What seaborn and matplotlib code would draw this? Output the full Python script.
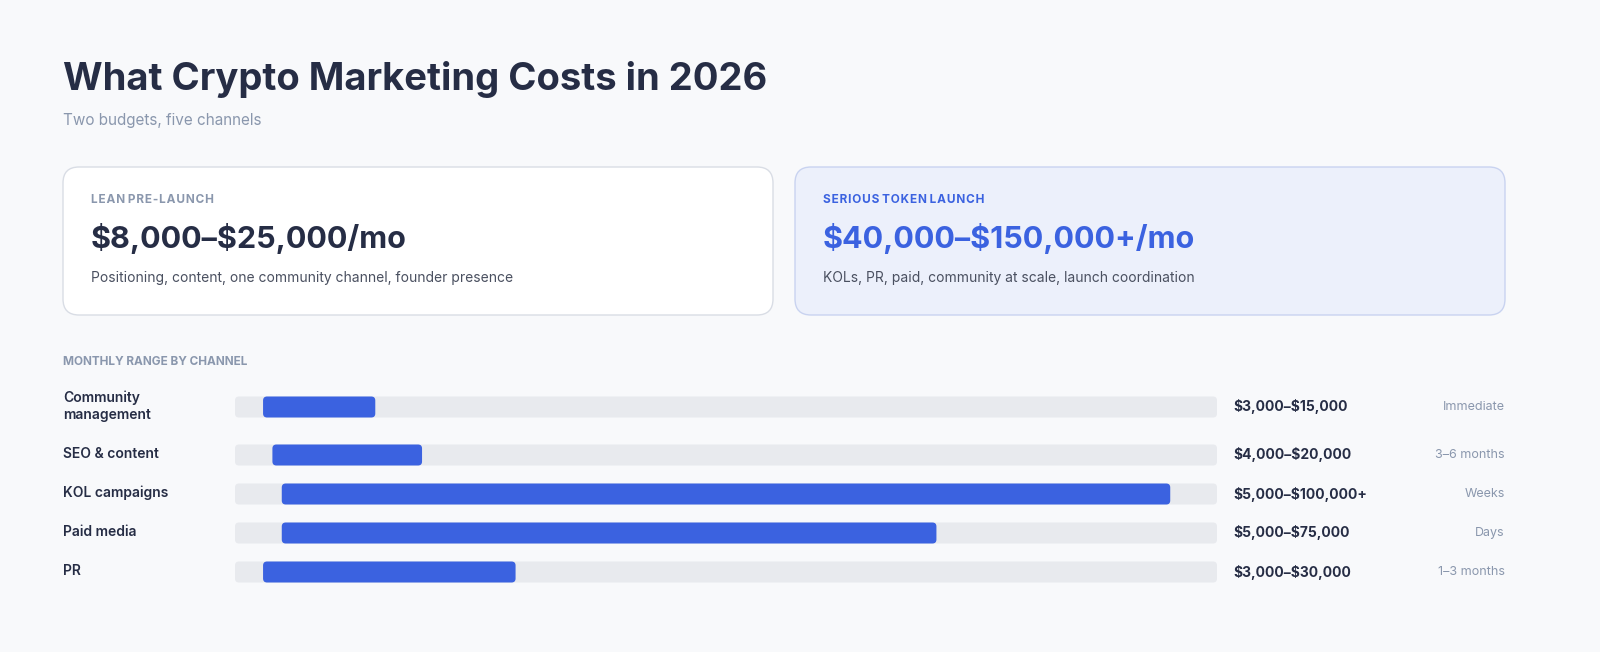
import matplotlib
matplotlib.use("Agg")
import matplotlib.pyplot as plt
import seaborn as sns
from matplotlib.patches import FancyBboxPatch

channels = ["Community\nmanagement", "SEO & content", "KOL campaigns", "Paid media", "PR"]
low = [3000, 4000, 5000, 5000, 3000]
high = [15000, 20000, 100000, 75000, 30000]
range_labels = ["$3,000–$15,000", "$4,000–$20,000", "$5,000–$100,000+", "$5,000–$75,000", "$3,000–$30,000"]
timing = ["Immediate", "3–6 months", "Weeks", "Days", "1–3 months"]
card_labels = ["L E A N   P R E - L A U N C H", "S E R I O U S   T O K E N   L A U N C H"]
card_values = ["$8,000–$25,000/mo", "$40,000–$150,000+/mo"]
card_desc = ["Positioning, content, one community channel, founder presence",
             "KOLs, PR, paid, community at scale, launch coordination"]
XMAX = 105000

sns.set_theme(style="white")
plt.rcParams['font.family'] = ['Inter', 'DejaVu Sans']

W, H = 1600, 652
BG = "#f8f9fb"; DARK = "#262d45"; MUTED = "#8a97ad"; BLUE = "#3b62e0"; TRACK = "#e8eaee"
fig = plt.figure(figsize=(16, 6.52), dpi=100, facecolor=BG)

def fy(y): return 1 - y / H
def fx(x): return x / W
def txt(x, y, s, **kw):
    fig.text(fx(x), fy(y), s, va="center", parse_math=False, **kw)

txt(63, 80, "What Crypto Marketing Costs in 2026", fontsize=27.5, fontweight="bold", color=DARK)
txt(63, 121, "Two budgets, five channels", fontsize=11, color=MUTED)

cards = [(63, "white", "#d9dde5", MUTED, DARK), (795, "#ecf0fb", "#c9d3f0", BLUE, BLUE)]
for i, (x0, fc, ec, lc, vc) in enumerate(cards):
    p = FancyBboxPatch((fx(x0), fy(315)), fx(710), 148 / H,
                       boxstyle="round,pad=0,rounding_size=0.01", mutation_aspect=W / H,
                       transform=fig.transFigure, facecolor=fc, edgecolor=ec, linewidth=1)
    fig.patches.append(p)
    txt(x0 + 28, 200, card_labels[i].replace(" ", "\u200a").replace("\u200a\u200a\u200a", " "),
        fontsize=8.5, fontweight="bold", color=lc)
    txt(x0 + 28, 238, card_values[i], fontsize=22, fontweight="bold", color=vc)
    txt(x0 + 28, 278, card_desc[i], fontsize=10, color="#4a5060")

txt(63, 362, "MONTHLY RANGE BY CHANNEL", fontsize=8.5, fontweight="bold", color=MUTED)

row_y = [407, 455, 494, 533, 572]
top, bot = 385, 595
ax = fig.add_axes([fx(235), fy(bot), fx(1217 - 235), (bot - top) / H])
ax.set_facecolor("none")
ax.set_xlim(0, XMAX); ax.set_ylim(bot, top)
ax.axis("off")
pxx = XMAX / 982
bh = 21
for y, lo, hi in zip(row_y, low, high):
    for x0, w, c in [(0, XMAX, TRACK), (lo, hi - lo, BLUE)]:
        ax.add_patch(FancyBboxPatch((x0, y - bh / 2), w, bh,
                                    boxstyle=f"round,pad=0,rounding_size={4 * pxx}",
                                    mutation_aspect=1 / pxx, facecolor=c, edgecolor="none"))
for y, ch, rl, tm in zip(row_y, channels, range_labels, timing):
    txt(63, y - 1, ch, fontsize=10, fontweight="semibold", color=DARK, linespacing=1.3)
    txt(1233, y, rl, fontsize=10, fontweight="bold", color=DARK)
    txt(1505, y, tm, fontsize=9, color=MUTED, ha="right")

fig.savefig("out.png", dpi=100, facecolor=BG)
